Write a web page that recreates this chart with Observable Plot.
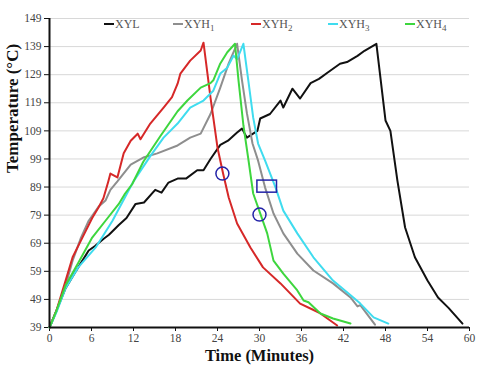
<!DOCTYPE html>
<html><head><meta charset="utf-8">
<script src="https://cdn.jsdelivr.net/npm/d3@7"></script>
<script src="https://cdn.jsdelivr.net/npm/@observablehq/plot@0.6"></script>
<style>
body{margin:0;background:#fff;}
#wrap{position:relative;width:480px;height:370px;font-family:"Liberation Serif","Times New Roman",serif;}
#legend{position:absolute;top:17px;left:0;width:480px;height:20px;font-size:12px;color:#555;}
#legend .it{position:absolute;white-space:nowrap;}
#legend .sw{display:inline-block;width:10px;height:2px;vertical-align:middle;margin-right:1px;position:relative;top:-1px;}
#legend sub{font-size:9px;}
</style>
</head><body>
<div id="wrap"><div id="legend"></div></div>
<script>
const seriesNames = ["XYL","XYH1","XYH2","XYH3","XYH4"];
const seriesColors = ["#111111","#8e8e8e","#d62828","#3fdcef","#3ed63e"];
const xTicks = [0,6,12,18,24,30,36,42,48,54,60];
const yTicks = [39,49,59,69,79,89,99,109,119,129,139,149];

const xylTime = [0,1,2.3,3.5,4.5,5.6,6.5,7.7,8.5,9.9,11,12.3,13.5,15.1,16,17,18.3,19.5,21.1,22,23,24.4,25.5,26.8,27.5,28.2,29.7,30.1,31.5,33,33.4,34.7,35.8,37.3,38.5,39.7,41.5,42.5,44,45,46.7,48,48.7,49.7,50.8,52.2,54,55.5,57,59];
const xylTemp = [39,45,53,58,62,66.4,68,70.5,72,75.5,78,83,83.5,88,87,90.6,92,92,95,95,99,104,105.5,108.4,109.8,106.6,109,113.4,115,119.8,117.3,124,120.5,126,127.5,129.7,132.9,133.5,135.7,137.5,140,112.7,109,91.3,74.6,64,55.7,49.7,46,40.4];

const xyh1Time = [0,1,2.3,3.3,4.5,5.6,7,8,8.7,9.7,11.6,13.4,15.4,18.3,20.1,21.6,23,24.4,25.6,26.8,27.5,28.2,29,29.8,30.8,32,33.4,35.4,37.7,40.5,43,44,44.4,46.5];
const xyh1Temp = [39,45,54,62.8,71,77,82,84.2,88,91,97,99.5,101,103.8,106.6,108,115,124.4,133,140,127,115.3,104.5,98.4,88.8,79.6,72.5,65.3,59.3,54.7,49.7,46.5,47,40];

const xyh2Time = [0,1,2.3,3.3,4.7,6.1,7,7.7,8.4,8.7,9.7,10.6,11.6,12.6,13,14.4,16.3,17.5,18.3,18.7,20.1,21.6,22,23,24,24.8,25.6,26.8,28.7,30.5,33,35.8,37.5,38.7,41.1];
const xyh2Temp = [39,45,55.7,64,71,78,81.7,85,91,93.8,92.4,101,105.5,108,106,111.6,117.3,121,125.8,129.4,134,137.6,140.4,120.8,103,93.8,85.3,76,67.5,60.4,54.7,47.5,45.5,44,39.7];

const xyh3Time = [0,1,2.3,4.1,6.6,9,11.3,12,14.4,16.3,18.3,20.1,22,23.4,24.4,25.4,26.3,26.8,27.7,28.4,29.1,29.8,30.8,32.3,33.4,35.4,37.7,40.5,43.4,44.4,46.3,48.4];
const xyh3Temp = [39,44.5,53,60.4,67.5,77,87.8,91,100,106.6,111.6,117.3,119.8,123.3,129.4,131.5,135.8,134.5,140,127,113.7,104.5,98.4,88.8,80.6,72.5,64,55.7,49.7,47.5,42.6,40.4];

const xyh4Time = [0,1,2.3,4.1,6.1,8,9.9,10.8,11.8,13.4,15.8,18.3,19.7,21.6,23,23.4,24.4,25.4,26.5,27,27.7,28.4,29.1,30.1,31.1,32,33.4,35.4,36.3,37,38.7,40.5,43];
const xyh4Temp = [39,45,54,62,71,77,83,86.7,90,98,107,116,119.8,124.4,126,127,133,137,140,127,111,99,86.7,79.6,72.5,62.8,58.2,52.2,48.6,48,44,42.2,40.4];

const circleTime = [24.7,30];
const circleTemp = [93.8,79.2];
const boxTime1 = [29.7], boxTime2 = [32.5], boxTemp1 = [87], boxTemp2 = [91.3];

const times = [xylTime,xyh1Time,xyh2Time,xyh3Time,xyh4Time];
const temps = [xylTemp,xyh1Temp,xyh2Temp,xyh3Temp,xyh4Temp];
const rows = [];
seriesNames.forEach((s,i)=>times[i].forEach((t,j)=>rows.push({series:s,t,v:temps[i][j]})));
const circles = circleTime.map((t,i)=>({t,v:circleTemp[i]}));
const boxes = boxTime1.map((t,i)=>({x1:t,x2:boxTime2[i],y1:boxTemp1[i],y2:boxTemp2[i]}));

const annot = "#2323a8";
const plot = Plot.plot({
  width:480, height:370,
  marginLeft:49, marginRight:11, marginTop:18, marginBottom:43,
  style:{fontFamily:"'Liberation Serif','Times New Roman',serif", fontSize:"11.5px", color:"#444", background:"#fff"},
  x:{domain:[0,60], ticks:xTicks},
  y:{domain:[39,149], ticks:yTicks},
  color:{domain:seriesNames, range:seriesColors},
  marks:[
    Plot.gridY(yTicks,{stroke:"#d8d8d8", strokeOpacity:1}),
    Plot.axisY(yTicks,{tickSize:5, tickPadding:3, label:null, stroke:"#111"}),
    Plot.axisX(xTicks,{tickSize:4, tickPadding:2, label:null, stroke:"#111"}),
    Plot.line(rows,{x:"t", y:"v", z:"series", stroke:"series", strokeWidth:2, curve:"linear"}),
    Plot.ruleX([0],{stroke:"#111", strokeWidth:2}),
    Plot.ruleY([39],{stroke:"#111", strokeWidth:2}),
    Plot.dot(circles,{x:"t", y:"v", r:6.5, stroke:annot, strokeWidth:1.5, fill:"none"}),
    Plot.rect(boxes,{x1:"x1", x2:"x2", y1:"y1", y2:"y2", stroke:annot, strokeWidth:1.5, fill:"none"}),
    Plot.text(["Temperature (°C)"],{frameAnchor:"left", dx:-37, rotate:-90, fontSize:17, fontWeight:"bold", fill:"#111"}),
    Plot.text(["Time (Minutes)"],{frameAnchor:"bottom", dy:33, fontSize:16.5, fontWeight:"bold", fill:"#111"})
  ]
});
document.getElementById("wrap").prepend(plot);

const legPos = [104,173,251,328,405];
const leg = document.getElementById("legend");
seriesNames.forEach((s,i)=>{
  const d = document.createElement("div");
  d.className="it"; d.style.left=legPos[i]+"px";
  const sw = document.createElement("span"); sw.className="sw"; sw.style.background=seriesColors[i];
  d.appendChild(sw);
  const m = s.match(/^([A-Z]+)(\d?)$/);
  d.appendChild(document.createTextNode(m[1]));
  if(m[2]){const sb=document.createElement("sub"); sb.textContent=m[2]; d.appendChild(sb);}
  leg.appendChild(d);
});
</script>
</body></html>
